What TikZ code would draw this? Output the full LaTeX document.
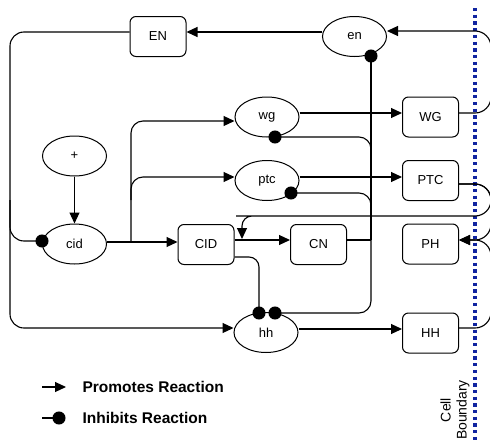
\documentclass[tikz,border=0pt]{standalone}
\usepackage{fontspec}
\setmainfont{Liberation Sans}
\usetikzlibrary{arrows.meta,shapes.geometric}
\definecolor{bnd}{RGB}{16,36,160}
\begin{document}
\begin{tikzpicture}[x=1pt,y=-1pt,
  box/.style={draw, rounded corners=6pt, minimum width=56pt, minimum height=40pt, inner sep=0pt, line width=1pt, font=\fontsize{13}{15}\selectfont},
  gene/.style={draw, ellipse, minimum width=64pt, minimum height=40pt, inner sep=0pt, line width=1pt, font=\fontsize{13}{15}\selectfont},
  con/.style={line width=1.1pt, rounded corners=12pt},
  pro/.style={con, -{Triangle[length=11pt,width=10pt]}},
  inh/.style={con, -{Circle[length=13pt]}, shorten >=-6.5pt},
  legendtext/.style={anchor=west, font=\bfseries\fontsize{15.5}{18}\selectfont},
]
\useasboundingbox (0,0) rectangle (490,442);
\clip (0,0) rectangle (490,442);

% nodes
\node[box]  (EN)  at (158,36.5)   {EN};
\node[gene] (en)  at (354.5,36.5) {en};
\node[gene] (wg)  at (267,117)    {wg};
\node[box]  (WG)  at (430.5,117)  {WG};
\node[gene] (ptc) at (267,180.5)  {ptc};
\node[box]  (PTC) at (430.5,180.5){PTC};
\node[gene] (plus) at (74.5,156)  {+};
\node[gene] (cid) at (74.5,244)   {cid};
\node[box]  (CID) at (206,244.5)  {CID};
\node[box]  (CN)  at (318.5,244.5){CN};
\node[box]  (PH)  at (430.5,244)  {PH};
\node[gene] (hh)  at (266,332.5)  {hh};
\node[box]  (HH)  at (430.5,333)  {HH};

% cell boundary
\coordinate (bt) at (475,8);
\coordinate (bb) at (475,442);
\draw[bnd, line width=3.3pt, dash pattern=on 3.3pt off 3.4pt] (bt) -- (bb);
\node[rotate=90, align=center, font=\fontsize{14}{16}\selectfont] (cb) at (455,410) {Cell\\Boundary};

% connectors
\draw[pro] (en.west |- 0,32) -- (EN.east |- 0,32);
\draw[inh, rounded corners=14pt] (EN.west |- 0,32) -- (10,32) -- (10,241) -- (cid.west |- 0,241);
\draw[pro, rounded corners=14pt] (10,200) -- (10,328) -- (hh.west |- 0,328);
\draw[pro] (plus) -- (cid);
\draw[pro] (cid.east |- 0,242) -- (CID.west |- 0,242);
\draw[pro] (131,242) -- (131,121) -- (wg.west |- 0,121);
\draw[pro] (131,200) -- (131,177) -- (ptc.west |- 0,177);
\draw[pro] (wg.east |- 0,113) -- (WG.west |- 0,113);
\draw[pro] (ptc.east |- 0,177) -- (PTC.west |- 0,177);
\draw[pro] (hh.east |- 0,329) -- (HH.west |- 0,329);
\draw[pro, rounded corners=16pt] (WG.east |- 0,113) -- (491,113) -- (491,31) -- (en.east |- 0,31);
\draw[pro, rounded corners=16pt] (PTC.east |- 0,184) -- (491,184) -- (491,216) -- (252,216) [rounded corners=10pt] -- (242,216) -- (242,239);
\draw[pro, rounded corners=16pt] (PTC.east |- 0,184) -- (491,184) -- (491,240) -- (PH.east |- 0,240);
\draw[pro, rounded corners=16pt] (HH.east |- 0,328) -- (491,328) -- (491,240) -- (PH.east |- 0,240);
\draw[pro] (CID.east |- 0,240) -- (CN.west |- 0,240);
\draw[inh, rounded corners=10pt] (CID.east |- 0,257) -- (259,257) -- (259,313);
\draw[con] (CN.east |- 0,240) -- (371,240);
\draw[inh] (371,240) -- (371,56);
\draw[inh] (371,200) -- (371,137) -- (275,137);
\draw[inh] (371,220) -- (371,193) -- (291,193);
\draw[inh] (371,240) -- (371,313) -- (275,313);

% legend
\node[legendtext] (lp) at (79,387) {Promotes Reaction};
\node[legendtext] (li) at (79,418) {Inhibits Reaction};
\coordinate (lpa) at (42,387);
\coordinate (lia) at (42,418);
\draw[pro] (lpa) -- ++(24,0);
\draw[inh] (lia) -- ++(17,0);
\end{tikzpicture}
\end{document}
